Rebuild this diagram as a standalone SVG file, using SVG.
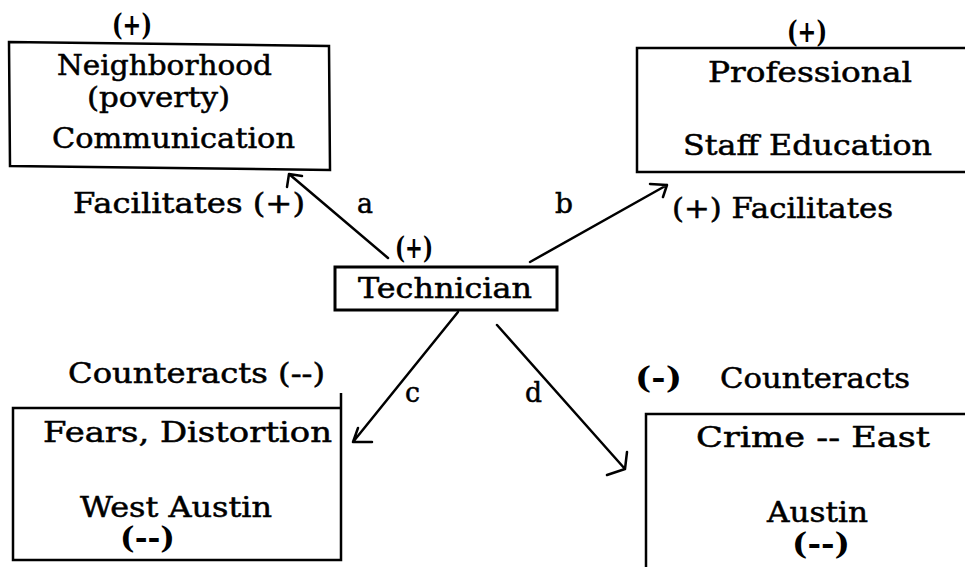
<svg xmlns="http://www.w3.org/2000/svg" width="965" height="567" viewBox="0 0 965 567">
<style>
  text { font-family: "DejaVu Serif", "Liberation Serif", serif; font-size: 27px; fill: #000; stroke: #000; stroke-width: 0.5; }
  .sign { font-size: 29px; font-weight: bold; stroke-width: 0; }
  .box { fill: none; stroke: #000; stroke-width: 2.5; }
  .tbox { fill: none; stroke: #000; stroke-width: 3; }
  .conn { fill: none; stroke: #000; stroke-width: 2.5; stroke-linecap: round; stroke-linejoin: round; }
</style>
<rect width="965" height="567" fill="#fff"/>

<g id="node-neighborhood">
  <path class="box" d="M9,42 L329,46 L330,170 L10,166 Z"/>
  <text class="sign" x="112" y="35" textLength="40" lengthAdjust="spacingAndGlyphs">(+)</text>
  <text x="57" y="75" textLength="215" lengthAdjust="spacingAndGlyphs">Neighborhood</text>
  <text x="87" y="107" textLength="143" lengthAdjust="spacingAndGlyphs">(poverty)</text>
  <text x="52" y="148" textLength="243" lengthAdjust="spacingAndGlyphs">Communication</text>
</g>

<g id="node-professional">
  <path class="box" d="M966,48 L637,48 L637,172 L966,172"/>
  <text class="sign" x="787" y="42" textLength="40" lengthAdjust="spacingAndGlyphs">(+)</text>
  <text x="708" y="82" textLength="204" lengthAdjust="spacingAndGlyphs">Professional</text>
  <text x="683" y="155" textLength="249" lengthAdjust="spacingAndGlyphs">Staff Education</text>
</g>

<g id="node-technician">
  <rect class="tbox" x="335" y="267" width="222" height="43"/>
  <text class="sign" x="395" y="258" textLength="38" lengthAdjust="spacingAndGlyphs">(+)</text>
  <text x="358" y="298" textLength="174" lengthAdjust="spacingAndGlyphs">Technician</text>
</g>

<g id="node-fears">
  <path class="box" d="M13,408 L341,408 L341,560 L13,560 Z M341,393 L341,408"/>
  <text x="43" y="442" textLength="289" lengthAdjust="spacingAndGlyphs">Fears, Distortion</text>
  <text x="80" y="517" textLength="192" lengthAdjust="spacingAndGlyphs">West Austin</text>
  <text class="sign" x="120" y="548" textLength="55" lengthAdjust="spacingAndGlyphs">(--)</text>
</g>

<g id="node-crime">
  <path class="box" d="M966,414 L646,414 L646,568"/>
  <text x="696" y="447" textLength="234" lengthAdjust="spacingAndGlyphs">Crime -- East</text>
  <text x="767" y="522" textLength="101" lengthAdjust="spacingAndGlyphs">Austin</text>
  <text class="sign" x="792" y="554" textLength="58" lengthAdjust="spacingAndGlyphs">(--)</text>
</g>

<g id="connectors">
  <path class="conn" d="M388,258 L289,174 M302,176 L289,174 L287,187"/>
  <path class="conn" d="M530,262 L667,185 M650,184 L667,185 L663,197"/>
  <path class="conn" d="M458,312 L353,442 M358,428 L353,442 L372,442"/>
  <path class="conn" d="M497,325 L625,469 M627,452 L625,469 L607,475"/>
</g>

<g id="connector-labels">
  <text x="73" y="213" textLength="232" lengthAdjust="spacingAndGlyphs">Facilitates (+)</text>
  <text x="357" y="213" textLength="16" lengthAdjust="spacingAndGlyphs">a</text>
  <text x="555" y="213" textLength="18" lengthAdjust="spacingAndGlyphs">b</text>
  <text x="672" y="218" textLength="221" lengthAdjust="spacingAndGlyphs">(+) Facilitates</text>
  <text x="68" y="383" textLength="257" lengthAdjust="spacingAndGlyphs">Counteracts (--)</text>
  <text x="405" y="402" textLength="15" lengthAdjust="spacingAndGlyphs">c</text>
  <text x="525" y="402" textLength="17" lengthAdjust="spacingAndGlyphs">d</text>
  <text class="sign" x="635" y="388" textLength="47" lengthAdjust="spacingAndGlyphs">(-)</text>
  <text x="720" y="388" textLength="190" lengthAdjust="spacingAndGlyphs">Counteracts</text>
</g>
</svg>
